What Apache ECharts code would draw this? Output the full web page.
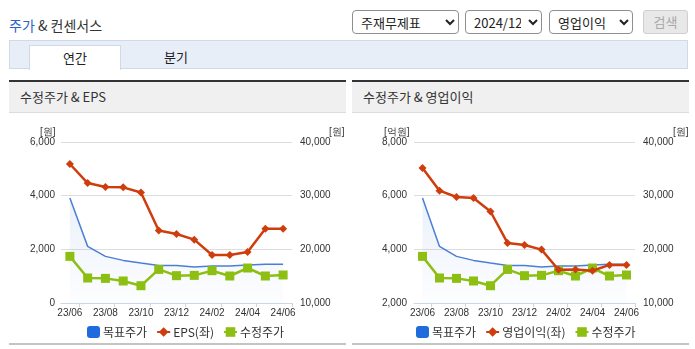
<!DOCTYPE html>
<html><head><meta charset="utf-8">
<script src="https://cdn.jsdelivr.net/npm/echarts@6/dist/echarts.min.js"></script>
<style>
html,body{margin:0;padding:0;background:#fff;}
body{width:695px;height:349px;position:relative;overflow:hidden;font-family:"Noto Sans CJK KR","Noto Sans",sans-serif;color:#333;}
.abs{position:absolute;}
select{position:absolute;top:10px;height:24px;font-family:"Noto Sans CJK KR",sans-serif;font-size:13px;color:#222;background:#fff;border:1px solid #8f8f8f;border-radius:4px;padding:0 4px;}
#chart{position:absolute;left:0;top:0;width:695px;height:349px;}
</style></head>
<body>
<div class="abs" style="left:9px;top:15px;font-size:14px;line-height:20px;"><span style="color:#2a62c9">주가</span> &amp; 컨센서스</div>
<select style="left:352px;width:107px;"><option>주재무제표</option></select>
<select style="left:465px;width:77px;"><option>2024/12</option></select>
<select style="left:549px;width:84px;"><option>영업이익</option></select>
<div class="abs" style="left:643px;top:10px;width:43px;height:22px;border:1px solid #cfcfcf;border-radius:3px;background:#e8e8e8;color:#a8a8a8;font-size:13px;line-height:22px;text-align:center;">검색</div>
<div class="abs" style="left:9px;top:40px;width:677px;height:27px;background:#e8eef8;border:1px solid #cfd9e8;"></div>
<div class="abs" style="left:29px;top:45px;width:90px;height:24px;background:#fff;border:1px solid #cfd9e8;border-bottom:none;font-size:13px;line-height:24px;text-align:center;color:#222;">연간</div>
<div class="abs" style="left:150px;top:45px;width:52px;height:24px;font-size:13px;line-height:24px;text-align:center;color:#222;">분기</div>

<div class="abs" style="left:9px;top:80px;width:337px;height:2px;background:#333;"></div>
<div class="abs" style="left:9px;top:82px;width:337px;height:30px;background:#f0f0f0;border-bottom:1px solid #dcdcdc;"></div>
<div class="abs" style="left:20px;top:82px;height:30px;line-height:30px;font-size:13px;color:#333;">수정주가 &amp; EPS</div>
<div class="abs" style="left:9px;top:343px;width:337px;height:2px;background:#c4c4c4;"></div>

<div class="abs" style="left:352px;top:80px;width:337px;height:2px;background:#333;"></div>
<div class="abs" style="left:352px;top:82px;width:337px;height:30px;background:#f0f0f0;border-bottom:1px solid #dcdcdc;"></div>
<div class="abs" style="left:363px;top:82px;height:30px;line-height:30px;font-size:13px;color:#333;">수정주가 &amp; 영업이익</div>
<div class="abs" style="left:352px;top:343px;width:337px;height:2px;background:#c4c4c4;"></div>

<div id="chart"></div>
<script>
// ---- data ----
const months = ['23/06','23/07','23/08','23/09','23/10','23/11','23/12','24/01','24/02','24/03','24/04','24/05','24/06'];
const targetPrice = [29560, 20550, 18690, 17940, 17450, 17000, 17000, 16700, 16890, 16890, 17080, 17200, 17200];
const adjPrice = [18690, 14660, 14590, 14100, 13220, 16260, 15090, 15150, 16020, 15030, 16520, 15030, 15220];
const eps = [5180, 4470, 4320, 4310, 4120, 2700, 2570, 2360, 1790, 1790, 1900, 2770, 2770];
const opIncome = [7030, 6185, 5950, 5910, 5410, 4240, 4160, 3990, 3240, 3250, 3200, 3420, 3420];
const epsTicks = [0, 6000, 2000];      // min, max, interval
const opTicks = [2000, 8000, 2000];
const priceTicks = [10000, 40000, 10000];

const FONT = '"Liberation Sans Narrow","Arial Narrow","Liberation Sans",sans-serif';
const C_TARGET = '#4a7fd6', C_EPS = '#cf3d0c', C_ADJ = '#8cbf12';
const fmt = v => v.toLocaleString('en-US');

function xAxis(gi){
  return {type:'category', gridIndex:gi, data:months, boundaryGap:true,
    axisLine:{lineStyle:{color:'#ccd6eb'}},
    axisTick:{show:true, length:4, alignWithLabel:false, interval:(i)=>i%2===1, lineStyle:{color:'#ccd6eb'}},
    axisLabel:{interval:1, margin:5, fontSize:10, fontFamily:FONT, color:'#333'}};
}
function yAxis(gi, t, pos, grid, margin){
  return {type:'value', gridIndex:gi, position:pos, min:t[0], max:t[1], interval:t[2],
    axisLine:{show:false}, axisTick:{show:false},
    splitLine:{show:grid, lineStyle:{color:'#dddddd'}},
    axisLabel:{margin:margin, fontSize:10, fontFamily:FONT, color:'#333', formatter:fmt}};
}
const areaGrad = new echarts.graphic.LinearGradient(0,0,0,1,[
  {offset:0, color:'rgba(74,127,214,0.16)'},{offset:1, color:'rgba(74,127,214,0.02)'}]);
function series(xi, yl, yr, name, vals){
  return [
    {name:'목표주가', type:'line', xAxisIndex:xi, yAxisIndex:yr, data:targetPrice, showSymbol:false, symbol:'none',
      lineStyle:{color:C_TARGET, width:1.5}, itemStyle:{color:C_TARGET}, areaStyle:{color:areaGrad}, z:1},
    {name:name, type:'line', xAxisIndex:xi, yAxisIndex:yl, data:vals, symbol:'diamond', symbolSize:8,
      lineStyle:{color:C_EPS, width:2.5}, itemStyle:{color:C_EPS}, z:3},
    {name:'수정주가', type:'line', xAxisIndex:xi, yAxisIndex:yr, data:adjPrice, symbol:'rect', symbolSize:9,
      lineStyle:{color:C_ADJ, width:2.5}, itemStyle:{color:C_ADJ}, z:2}
  ];
}
function legend(left, name){
  return {left:left, top:321, itemWidth:13, itemHeight:12, itemGap:9,
    textStyle:{fontSize:12, color:'#333', fontFamily:'"Noto Sans CJK KR",sans-serif', padding:[0,0,0,-2]},
    data:[{name:'목표주가', icon:'roundRect', itemStyle:{color:'#1f6bde'}}, {name:name}, {name:'수정주가'}]};
}
const unit = (x, y, t) => ({type:'text', left:x, top:y, style:{text:t, fontSize:10, fontFamily:FONT, fill:'#333'}});

const chart = echarts.init(document.getElementById('chart'), null, {renderer:'canvas'});
chart.setOption({
  animation:false,
  grid:[{left:61, top:142, width:231, height:161}, {left:414, top:142, width:221, height:161}],
  xAxis:[xAxis(0), xAxis(1)],
  yAxis:[yAxis(0, epsTicks, 'left', true, 6), yAxis(0, priceTicks, 'right', false, 8),
         yAxis(1, opTicks, 'left', true, 7), yAxis(1, priceTicks, 'right', false, 8)],
  legend:[legend(82, 'EPS(좌)'), legend(411, '영업이익(좌)')],
  series:[...series(0, 0, 1, 'EPS(좌)', eps), ...series(1, 2, 3, '영업이익(좌)', opIncome)],
  graphic:[unit(40, 127, '[원]'), unit(329, 127, '[원]'), unit(384, 127, '[억원]'), unit(673, 127, '[원]')]
});
</script>
</body></html>
